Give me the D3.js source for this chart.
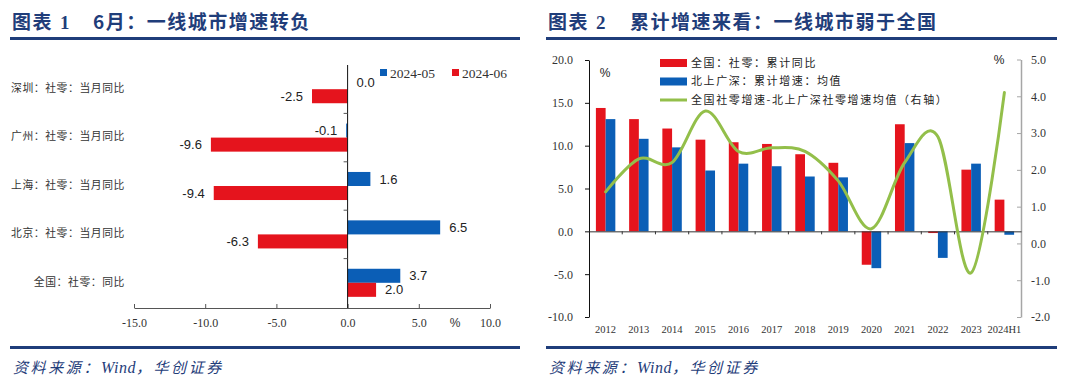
<!DOCTYPE html>
<html>
<head>
<meta charset="utf-8">
<script src="https://cdn.jsdelivr.net/npm/d3@7"></script>
<style>
  body { margin: 0; background: #fff; }
  svg { display: block; }
</style>
</head>
<body>
<svg id="chart" width="1080" height="391"></svg>
<script>
// ---- chart 1 data ----
const cityCats = ["深圳：社零：当月同比", "广州：社零：当月同比", "上海：社零：当月同比", "北京：社零：当月同比", "全国：社零：同比"];
const may24 = [0.0, -0.1, 1.6, 6.5, 3.7];
const jun24 = [-2.5, -9.6, -9.4, -6.3, 2.0];
const monthNames = ["2024-05", "2024-06"];
const xTicks1 = [-15, -10, -5, 0, 5, 10];

// ---- chart 2 data ----
const years = ["2012", "2013", "2014", "2015", "2016", "2017", "2018", "2019", "2020", "2021", "2022", "2023", "2024H1"];
const nationCum = [14.4, 13.1, 12.0, 10.7, 10.4, 10.2, 9.0, 8.0, -3.9, 12.5, -0.2, 7.2, 3.7];
const tier1Cum = [13.1, 10.8, 9.8, 7.1, 7.9, 7.6, 6.4, 6.3, -4.3, 10.3, -3.1, 7.9, -0.4];
const gapAvg = [1.4, 2.3, 2.2, 3.6, 2.5, 2.6, 2.5, 1.7, 0.4, 2.2, 2.9, -0.8, 4.1];
const seriesNames2 = ["全国：社零：累计同比", "北上广深：累计增速：均值", "全国社零增速-北上广深社零增速均值（右轴）"];
const leftTicks2 = [-10, -5, 0, 5, 10, 15, 20];
const rightTicks2 = [-2, -1, 0, 1, 2, 3, 4, 5];

const RED = "#e5141d";
const BLUE = "#0b5eb6";
const GREEN = "#93bf4a";
const NAVY = "#1f3d7a";
const CJK = "'Noto Sans CJK SC', sans-serif";
const SERIF = "'Liberation Serif', serif";
// plain hyphen for negatives, as in the source
const fmt = v => (+v).toFixed(1);

const svg = d3.select("#chart");

// ---- headers and footers ----
function frame(x0, x1, num, title) {
  const g = svg.append("g");
  g.append("text").attr("x", x0 + 2).attr("y", 29)
    .style("font-family", CJK).style("font-weight", 700).style("font-size", "19px")
    .style("letter-spacing", "1.5px").style("fill", NAVY).text("图表");
  g.append("text").attr("x", x0 + 50).attr("y", 29)
    .style("font-family", SERIF).style("font-weight", 700).style("font-size", "19px")
    .style("fill", NAVY).text(num);
  g.append("text").attr("x", x0 + (num === "1" ? 83 : 84)).attr("y", 29)
    .style("font-family", CJK).style("font-weight", 700).style("font-size", "19px")
    .style("letter-spacing", "1.5px").style("fill", NAVY).text(title);
  g.append("rect").attr("x", x0).attr("y", 37).attr("width", x1 - x0).attr("height", 3).attr("fill", NAVY);
  g.append("rect").attr("x", x0).attr("y", 346).attr("width", x1 - x0).attr("height", 3).attr("fill", NAVY);
  const src = g.append("text").attr("x", x0 + 3).attr("y", 373)
    .style("font-family", CJK).style("font-style", "italic").style("font-size", "15px")
    .style("letter-spacing", "2.6px").style("fill", NAVY);
  src.append("tspan").text("资料来源：");
  src.append("tspan").style("font-family", SERIF).style("font-size", "16px").style("letter-spacing", "0.5px").text("Wind");
  src.append("tspan").text("，华创证券");
}
frame(10, 520, "1", "6月：一线城市增速转负");
frame(546, 1057, "2", "累计增速来看：一线城市弱于全国");

// ================= chart 1 =================
(function drawCityBars() {
  const x = d3.scaleLinear().domain([-15, 10]).range([134, 490]);
  const y = d3.scaleBand().domain(cityCats).range([65, 307]).paddingInner(0.42).paddingOuter(0.21);
  const ySub = d3.scaleBand().domain(monthNames).range([0, y.bandwidth()]);
  const rows = cityCats.map((c, i) => ({ cat: c, vals: [may24[i], jun24[i]] }));
  const g = svg.append("g");

  // x axis
  const xAxis = g.append("g").attr("transform", "translate(0,308)")
    .call(d3.axisBottom(x).tickValues(xTicks1).tickFormat(fmt).tickSizeInner(-4).tickSizeOuter(0).tickPadding(10));
  xAxis.select(".domain").attr("stroke", "#555");
  xAxis.selectAll(".tick line").attr("stroke", "#555");
  xAxis.selectAll("text").style("font-family", SERIF).style("font-size", "12px").style("fill", "#333");
  g.append("text").attr("x", 455).attr("y", 327).attr("text-anchor", "middle")
    .style("font-family", "'Liberation Sans', sans-serif").style("font-size", "12px").style("fill", "#333").text("%");

  // bars
  const grp = g.selectAll("g.row").data(rows).enter().append("g")
    .attr("class", "row").attr("transform", d => `translate(0,${y(d.cat)})`);
  grp.selectAll("rect").data(d => d.vals.map((v, j) => ({ v, s: monthNames[j] }))).enter().append("rect")
    .attr("x", d => x(Math.min(0, d.v)))
    .attr("width", d => Math.abs(x(d.v) - x(0)))
    .attr("y", d => ySub(d.s))
    .attr("height", ySub.bandwidth())
    .attr("fill", d => d.s === "2024-05" ? BLUE : RED);
  grp.selectAll("text").data(d => d.vals.map((v, j) => ({ v, s: monthNames[j] }))).enter().append("text")
    .attr("x", d => d.v < 0 ? x(d.v) - 9 : x(d.v) + 9)
    .attr("y", d => ySub(d.s) + ySub.bandwidth() / 2)
    .attr("dy", "0.35em")
    .attr("text-anchor", d => d.v < 0 ? "end" : "start")
    .style("font-family", "'Liberation Sans', sans-serif").style("font-size", "13px").style("fill", "#222")
    .text(d => fmt(d.v));

  // vertical axis at zero with ticks between categories
  g.append("line").attr("x1", x(0)).attr("x2", x(0)).attr("y1", 65).attr("y2", 308).attr("stroke", "#111");
  const gap = (y.step() - y.bandwidth()) / 2;
  g.selectAll("line.sep").data(cityCats.slice(1)).enter().append("line").attr("class", "sep")
    .attr("x1", x(0) - 4).attr("x2", x(0))
    .attr("y1", d => y(d) - gap).attr("y2", d => y(d) - gap).attr("stroke", "#555");

  // category labels
  g.selectAll("text.cat").data(cityCats).enter().append("text").attr("class", "cat")
    .attr("x", 125).attr("y", d => y(d) + y.bandwidth() / 2 - 1).attr("dy", "0.35em")
    .attr("text-anchor", "end")
    .style("font-family", CJK).style("font-size", "10.8px").style("letter-spacing", "0.6px").style("fill", "#333")
    .text(d => d);

  // legend
  const leg = g.selectAll("g.leg").data(monthNames).enter().append("g").attr("class", "leg")
    .attr("transform", (d, i) => `translate(380,73) translate(${i * 72},0)`);
  leg.append("rect").attr("x", 0).attr("y", -4).attr("width", 7).attr("height", 7)
    .attr("fill", (d, i) => i === 0 ? BLUE : RED);
  leg.append("text").attr("x", 10).attr("y", 0).attr("dy", "0.35em")
    .style("font-family", SERIF).style("font-size", "13.5px").style("fill", "#333").text(d => d);
})();

// ================= chart 2 =================
(function drawCumulative() {
  const x = d3.scaleBand().domain(years).range([589, 1021]);
  const xSub = d3.scaleBand().domain(["n", "t"]).range([0, x.bandwidth()]).paddingOuter(0.71);
  const yL = d3.scaleLinear().domain([-10, 20]).range([317, 60]);
  const yR = d3.scaleLinear().domain([-2, 5]).range([317, 59.5]);
  const g = svg.append("g");

  // bars
  const grp = g.selectAll("g.yr").data(years).enter().append("g").attr("class", "yr")
    .attr("transform", d => `translate(${x(d)},0)`);
  grp.selectAll("rect").data((d, i) => [{ k: "n", v: nationCum[i] }, { k: "t", v: tier1Cum[i] }]).enter().append("rect")
    .attr("x", d => xSub(d.k))
    .attr("width", xSub.bandwidth())
    .attr("y", d => yL(Math.max(0, d.v)))
    .attr("height", d => Math.abs(yL(d.v) - yL(0)))
    .attr("fill", d => d.k === "n" ? RED : BLUE);

  // left axis
  const la = g.append("g").attr("transform", "translate(589,0)")
    .call(d3.axisLeft(yL).tickValues(leftTicks2).tickFormat(fmt).tickSizeInner(4).tickSizeOuter(0).tickPadding(12));
  la.select(".domain").attr("stroke", "#111");
  la.selectAll(".tick line").attr("stroke", "#111");
  la.selectAll("text").style("font-family", SERIF).style("font-size", "12px").style("fill", "#333");

  // right axis
  const ra = g.append("g").attr("transform", "translate(1021,0)")
    .call(d3.axisRight(yR).tickValues(rightTicks2).tickFormat(fmt).tickSizeInner(-4).tickSizeOuter(0).tickPadding(10));
  ra.select(".domain").attr("stroke", "#a6a6a6").attr("stroke-width", 1.5);
  ra.selectAll(".tick line").attr("stroke", "#a6a6a6");
  ra.selectAll("text").style("font-family", SERIF).style("font-size", "12px").style("fill", "#333");

  // zero line with category ticks
  const xa = g.append("g").attr("transform", `translate(0,${yL(0)})`)
    .call(d3.axisBottom(x).tickSize(0).tickFormat(""));
  xa.select(".domain").attr("stroke", "#333");
  g.selectAll("line.bt").data(years.slice(1)).enter().append("line").attr("class", "bt")
    .attr("x1", d => x(d)).attr("x2", d => x(d))
    .attr("y1", yL(0)).attr("y2", yL(0) + 3).attr("stroke", "#333");

  // year labels at bottom
  g.selectAll("text.yr").data(years).enter().append("text").attr("class", "yr")
    .attr("x", d => x(d) + x.bandwidth() / 2).attr("y", 329).attr("dy", "0.35em")
    .attr("text-anchor", "middle")
    .style("font-family", SERIF).style("font-size", "10.5px").style("fill", "#333")
    .text(d => d);

  // smoothed line on right axis
  const line = d3.line()
    .x((d, i) => x(years[i]) + x.bandwidth() / 2)
    .y(d => yR(d))
    .curve(d3.curveCatmullRom.alpha(0));
  g.append("path").datum(gapAvg).attr("d", line)
    .attr("fill", "none").attr("stroke", GREEN).attr("stroke-width", 3).attr("stroke-linecap", "round");

  // unit labels
  g.append("text").attr("x", 605).attr("y", 73).attr("dy", "0.35em").attr("text-anchor", "middle")
    .style("font-family", "'Liberation Sans', sans-serif").style("font-size", "12px").style("fill", "#222").text("%");
  g.append("text").attr("x", 999).attr("y", 60).attr("dy", "0.35em").attr("text-anchor", "middle")
    .style("font-family", "'Liberation Sans', sans-serif").style("font-size", "12px").style("fill", "#222").text("%");

  // legend
  const leg = g.selectAll("g.leg2").data(seriesNames2).enter().append("g").attr("class", "leg2")
    .attr("transform", (d, i) => `translate(660,${63 + i * 18.5})`);
  leg.filter((d, i) => i < 2).append("rect").attr("x", 0).attr("y", -4).attr("width", 27).attr("height", 8)
    .attr("fill", (d, i) => i === 0 ? RED : BLUE);
  leg.filter((d, i) => i === 2).append("line").attr("x1", 0).attr("x2", 27).attr("y1", 0).attr("y2", 0)
    .attr("stroke", GREEN).attr("stroke-width", 3);
  leg.append("text").attr("x", 31).attr("y", 0).attr("dy", "0.35em")
    .style("font-family", CJK).style("font-size", "11px").style("letter-spacing", "1.6px").style("fill", "#222")
    .text(d => d);
})();
</script>
</body>
</html>
